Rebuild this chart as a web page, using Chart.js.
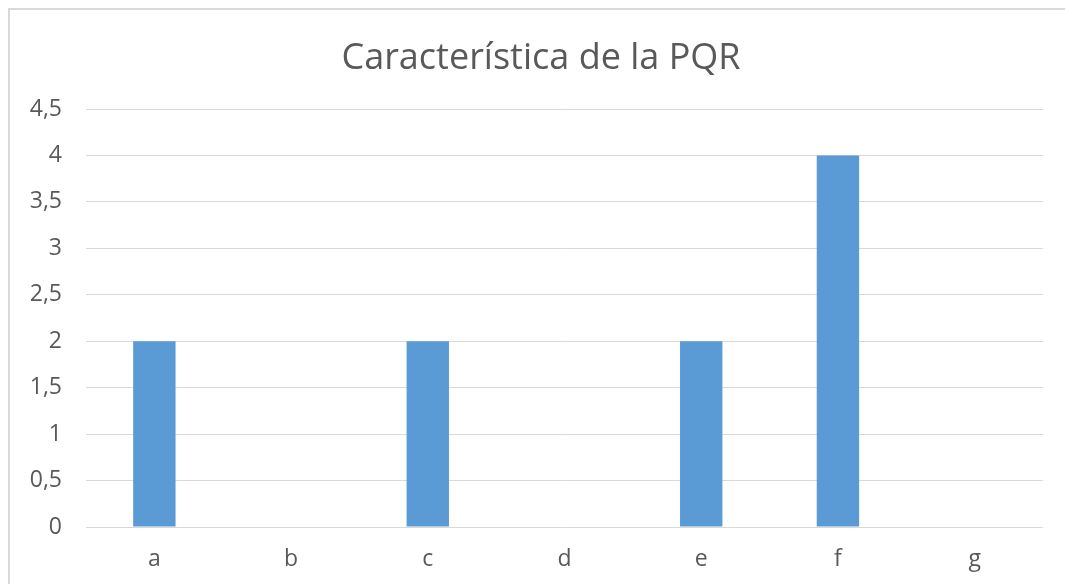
<!DOCTYPE html>
<html>
<head>
<meta charset="utf-8">
<script src="https://cdn.jsdelivr.net/npm/chart.js@4.4.0/dist/chart.umd.min.js"></script>
<style>
html,body{margin:0;padding:0;background:#fff;}
#wrap{position:absolute;left:0;top:0;width:1065px;height:584px;}
</style>
</head>
<body>
<div id="wrap"><canvas id="c" width="1065" height="584"></canvas></div>
<script>
const categories = ['a','b','c','d','e','f','g'];
const values = [2, 0, 2, 0, 2, 4, 0];
const titleText = 'Característica de la PQR';

const borderPlugin = {
  id: 'frame',
  afterLayout(chart) {
    const tb = chart.titleBlock;
    if (tb) { tb.left = 39; tb.width = tb.right - tb.left; }
  },
  beforeDraw(chart) {
    const ctx = chart.ctx;
    ctx.save();
    ctx.fillStyle = '#fff';
    ctx.fillRect(0, 0, chart.width, chart.height);
    ctx.strokeStyle = '#d9d9d9';
    ctx.lineWidth = 2;
    ctx.beginPath();
    ctx.moveTo(9, chart.height);
    ctx.lineTo(9, 9);
    ctx.lineTo(chart.width, 9);
    ctx.stroke();
    ctx.restore();
  }
};

new Chart(document.getElementById('c'), {
  type: 'bar',
  data: {
    labels: categories,
    datasets: [{
      data: values,
      backgroundColor: '#5b9bd5',
      borderWidth: 0,
      barPercentage: 0.31,
      categoryPercentage: 1.0
    }]
  },
  options: {
    responsive: false,
    animation: false,
    layout: { padding: { left: 0, right: 22, top: 10, bottom: 0 } },
    plugins: {
      legend: { display: false },
      tooltip: { enabled: false },
      title: {
        display: true,
        text: titleText,
        color: '#595959',
        font: { family: 'Open Sans', size: 36, weight: 'normal', lineHeight: 1.2 },
        padding: { top: 27, bottom: 28.8 }
      }
    },
    scales: {
      x: {
        afterFit(scale) { scale.height = 57; },
        grid: { display: false, drawTicks: false },
        border: { display: false },
        ticks: { color: '#595959', font: { family: 'Open Sans', size: 23 }, padding: 19 }
      },
      y: {
        min: 0, max: 4.5,
        afterFit(scale) { scale.width = 86; },
        grid: { color: '#d9d9d9', lineWidth: 1, drawTicks: false },
        border: { display: false },
        ticks: {
          stepSize: 0.5,
          color: '#595959',
          padding: 24,
          font: { family: 'Open Sans', size: 23 },
          callback: v => String(v).replace('.', ',')
        }
      }
    }
  },
  plugins: [borderPlugin]
});
</script>
</body>
</html>
